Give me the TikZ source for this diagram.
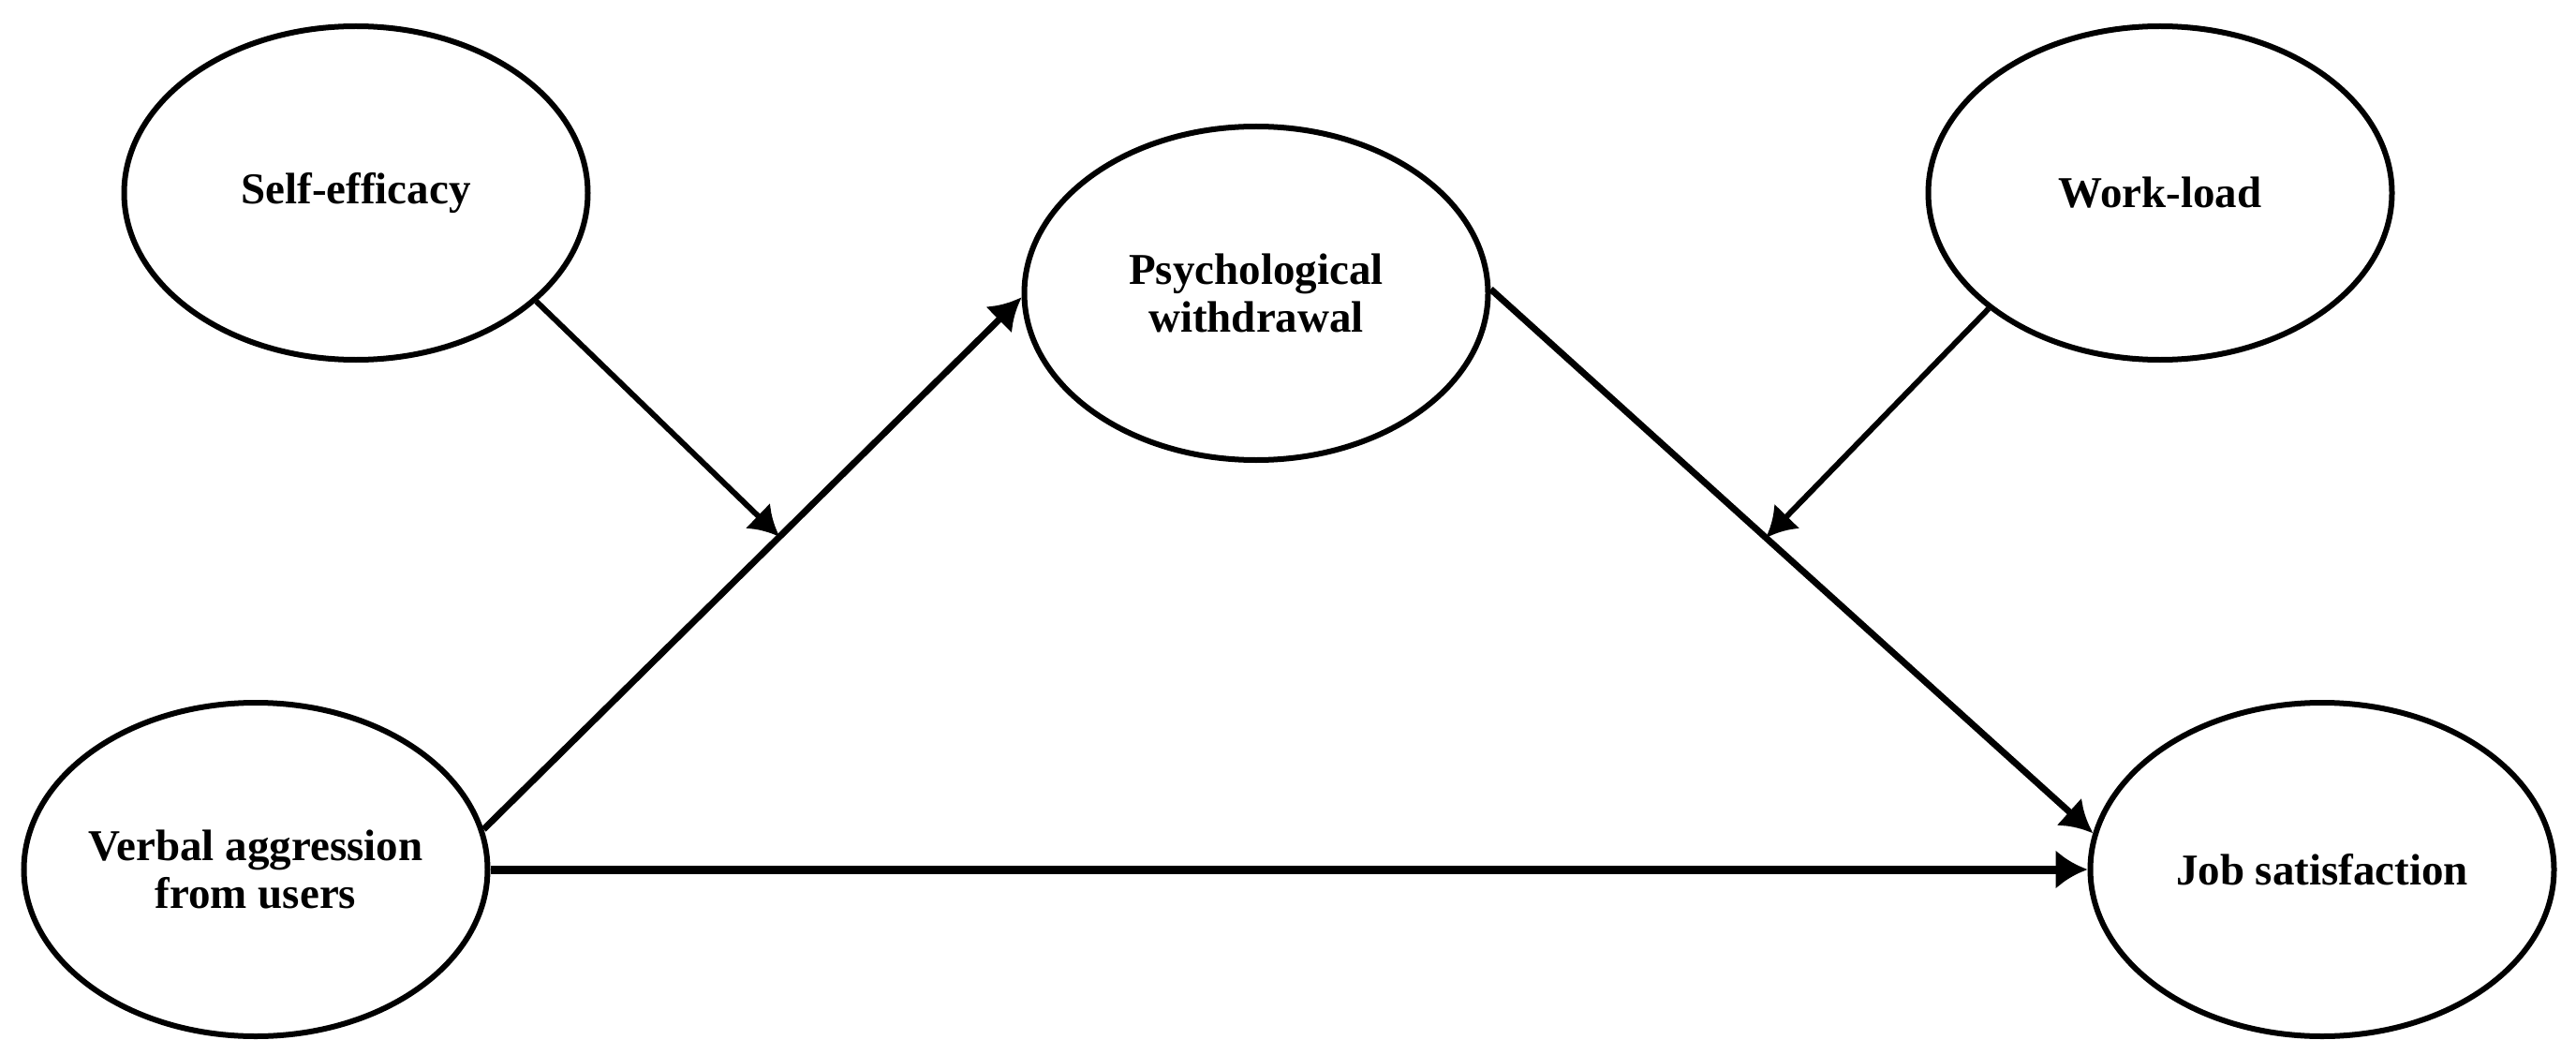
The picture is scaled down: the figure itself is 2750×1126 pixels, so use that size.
\documentclass[tikz,border=0pt]{standalone}
\usepackage{fontspec}
\setmainfont{Liberation Serif}
\usetikzlibrary{arrows.meta,calc,shapes.geometric}
\begin{document}
\begin{tikzpicture}[x=1pt,y=-1pt,
  var/.style={ellipse,draw,line width=6pt,minimum width=495pt,minimum height=356pt,inner sep=0pt},
  lbl/.style={font=\fontsize{47}{51}\selectfont\bfseries,align=center,inner sep=0pt},
  mainarrow/.style={line width=7pt,-{Latex[length=34pt,width=40pt]}},
  directarrow/.style={line width=9pt,-{Latex[length=34pt,width=42pt]}},
  modarrow/.style={line width=6pt,-{Latex[length=32pt,width=38pt]}}
]
\useasboundingbox (0,0) rectangle (2750,1126);

\node[var] (self) at (380,206) {};
\node[lbl] (selft) at (self) {Self-efficacy};

\node[var] (psych) at (1341,313) {};
\node[lbl] (psycht) at (psych) {Psychological\\withdrawal};

\node[var] (work) at (2306,206) {};
\node[lbl] (workt) at (work) {Work-load};

\node[var] (verbal) at (273,928) {};
\node[lbl] (verbalt) at (verbal) {Verbal aggression\\from users};

\node[var] (job) at (2479,928) {};
\node[lbl] (jobt) at (job) {Job satisfaction};

\coordinate (vstart) at (verbal.10);
\coordinate (pend) at (psych.181);
\coordinate (pstart) at (psych.1);
\coordinate (jend) at (job.171);
\coordinate (m1) at ($(vstart)!0.55!(pend)$);
\coordinate (m2) at ($(pstart)!0.457!(jend)$);

\draw[mainarrow] (vstart) -- (pend);
\draw[mainarrow] (pstart) -- (jend);
\draw[directarrow] (verbal.east) -- (job.west);
\draw[modarrow] (self.-31) -- (m1);
\draw[modarrow] (work.214) -- (m2);
\end{tikzpicture}
\end{document}
